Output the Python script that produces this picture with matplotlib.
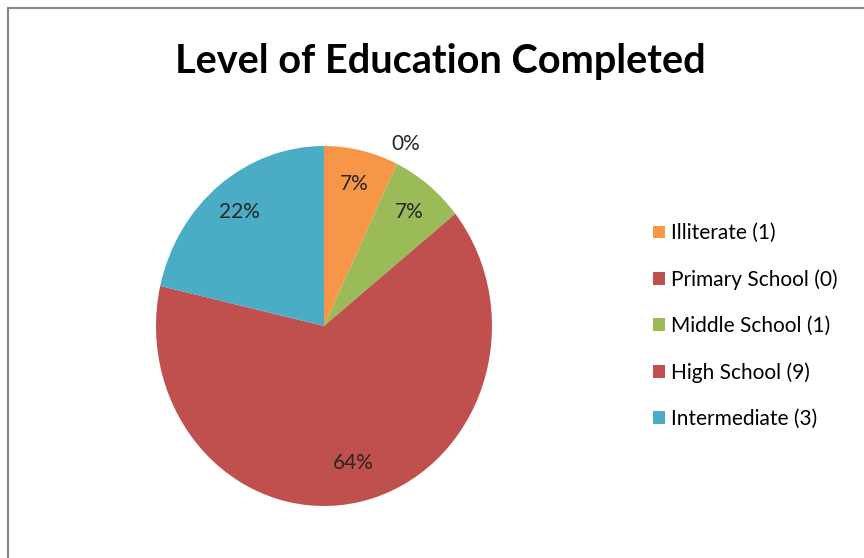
import matplotlib.pyplot as plt
import matplotlib as mpl
import numpy as np

categories = ["Illiterate", "Primary School", "Middle School", "High School", "Intermediate"]
counts = [1, 0, 1, 9, 3]
pct_labels = ["7%", "0%", "7%", "64%", "22%"]
colors = ["#F79646", "#C0504D", "#9BBB59", "#C0504D", "#4BACC6"]

plt.rcParams['font.family'] = ['Lato', 'DejaVu Sans']

fig = plt.figure(figsize=(8.64, 5.58), dpi=100)

# outer chart border (cut off at right and bottom like the screenshot)
border = mpl.patches.Rectangle((8 / 864, -0.1), 1.2, 1 - 8 / 558 + 0.1,
                               transform=fig.transFigure, fill=False,
                               edgecolor="#868686", linewidth=1.5)
fig.patches.append(border)

fig.text(440 / 864, 1 - 62 / 558, "Level of Education Completed",
         ha="center", va="center", fontsize=28.5, fontweight="bold")

# pie is slightly squashed horizontally in the reference
ax = fig.add_axes([(324 - 168) / 864, (558 - 326 - 180) / 558, 336 / 864, 360 / 558])
wedges, _ = ax.pie(counts, colors=colors, startangle=90, counterclock=False,
                   wedgeprops=dict(linewidth=0))
ax.set_xlim(-1, 1)
ax.set_ylim(-1, 1)
ax.set_aspect("auto")
ax.axis("off")

for w, lab, c in zip(wedges, pct_labels, counts):
    mid = np.deg2rad((w.theta1 + w.theta2) / 2)
    r = 0.81 if c > 0 else 1.12
    if c == 9:
        r = 0.78
    ax.text(r * np.cos(mid), r * np.sin(mid), lab, ha="center", va="center",
            fontsize=15, color="#262626", clip_on=False)

handles = [mpl.patches.Patch(facecolor=col) for col in colors]
labels = ["%s (%d)" % (n, v) for n, v in zip(categories, counts)]
fig.legend(handles, labels, loc="center left",
           bbox_to_anchor=(645 / 864, 1 - 326 / 558), frameon=False,
           fontsize=15, labelspacing=1.25, handlelength=0.55, handleheight=0.55,
           handletextpad=0.3, borderaxespad=0)

fig.savefig("out.png", dpi=100)
